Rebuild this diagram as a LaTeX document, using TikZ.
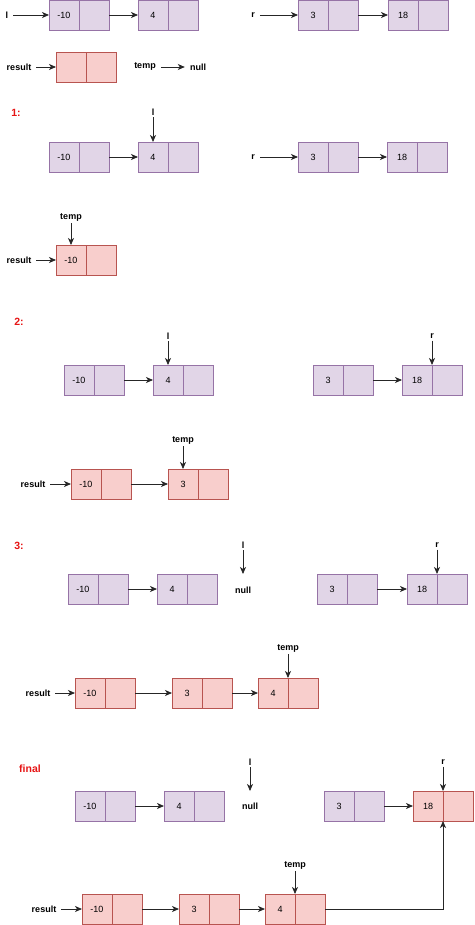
\documentclass[tikz,border=0pt]{standalone}
\usepackage{fontspec}
\setmainfont{Liberation Sans}
\definecolor{nodepurple}{HTML}{E1D5E7}
\definecolor{edgepurple}{HTML}{9673A6}
\definecolor{nodepink}{HTML}{F8CECC}
\definecolor{edgepink}{HTML}{B85450}
\definecolor{steptitle}{RGB}{230,20,20}
\usetikzlibrary{arrows.meta,positioning,calc}

% one list element: value cell #1 and next cell #1p
\newcommand{\lnode}[4]{%
  \node[cell,#4,anchor=west] (#1) at (#2) {#3};
  \node[cell,#4,right=0pt of #1] (#1p) {};}

\begin{document}
\begin{tikzpicture}[x=1pt, y=-1pt,
    cell/.style={draw, minimum width=30pt, minimum height=30pt, inner sep=0pt,
                 outer sep=0pt, line width=0.8pt, font=\fontsize{9}{10}\selectfont},
    lst/.style={fill=nodepurple, draw=edgepurple},
    res/.style={fill=nodepink, draw=edgepink},
    var/.style={font=\fontsize{9}{10}\selectfont\bfseries, inner xsep=5pt, inner ysep=2pt},
    title/.style={font=\fontsize{10.5}{12}\selectfont\bfseries, text=steptitle},
    ptr/.style={-{Stealth[length=7pt,width=6pt,inset=2pt]}, line width=0.8pt, draw=black!85}]
  \useasboundingbox (0,0) rectangle (474,925);

  % start
  \lnode{a0}{49,15}{-10}{lst}
  \lnode{b0}{138,15}{4}{lst}
  \lnode{c0}{298,15}{3}{lst}
  \lnode{d0}{388,15}{18}{lst}
  \lnode{e0}{56,67}{}{res}
  \node[var] (l0) at (7,15) {l};
  \node[var] (r0) at (253,15) {r};
  \node[var] (res0) at (19,67) {result};
  \node[var] (tmp0) at (145,67) {temp};
  \node[var] (nul0) at (198,67) {null};
  \draw[ptr] (l0) -- (a0);
  \draw[ptr] (a0p) -- (b0);
  \draw[ptr] (r0) -- (c0);
  \draw[ptr] (c0p) -- (d0);
  \draw[ptr] (res0) -- (e0);
  \draw[ptr] (tmp0) -- (nul0);

  % step 1
  \node[title] (s1) at (16,113) {1:};
  \lnode{a1}{49,157}{-10}{lst}
  \lnode{b1}{138,157}{4}{lst}
  \lnode{c1}{298,157}{3}{lst}
  \lnode{d1}{387,157}{18}{lst}
  \lnode{e1}{56,260}{-10}{res}
  \node[var] (l1) at (153,112) {l};
  \node[var] (r1) at (253,157) {r};
  \node[var] (res1) at (19,260) {result};
  \node[var] (tmp1) at (71,217) {temp};
  \draw[ptr] (a1p) -- (b1);
  \draw[ptr] (c1p) -- (d1);
  \draw[ptr] (l1) -- (b1);
  \draw[ptr] (r1) -- (c1);
  \draw[ptr] (res1) -- (e1);
  \draw[ptr] (tmp1) -- (e1);

  % step 2
  \node[title] (s2) at (19,322) {2:};
  \lnode{a2}{64,380}{-10}{lst}
  \lnode{b2}{153,380}{4}{lst}
  \lnode{c2}{313,380}{3}{lst}
  \lnode{d2}{402,380}{18}{lst}
  \lnode{e2}{71,484}{-10}{res}
  \lnode{f2}{168,484}{3}{res}
  \node[var] (l2) at (168,336) {l};
  \node[var] (r2) at (432,336) {r};
  \node[var] (res2) at (33,484) {result};
  \node[var] (tmp2) at (183,440) {temp};
  \draw[ptr] (a2p) -- (b2);
  \draw[ptr] (c2p) -- (d2);
  \draw[ptr] (l2) -- (b2);
  \draw[ptr] (r2) -- (d2.north east);
  \draw[ptr] (e2p) -- (f2);
  \draw[ptr] (res2) -- (e2);
  \draw[ptr] (tmp2) -- (f2);

  % step 3
  \node[title] (s3) at (19,546) {3:};
  \lnode{a3}{68,589}{-10}{lst}
  \lnode{b3}{157,589}{4}{lst}
  \lnode{c3}{317,589}{3}{lst}
  \lnode{d3}{407,589}{18}{lst}
  \lnode{e3}{75,693}{-10}{res}
  \lnode{f3}{172,693}{3}{res}
  \lnode{g3}{258,693}{4}{res}
  \node[var] (l3) at (243,545) {l};
  \node[var] (nul3) at (243,590) {null};
  \node[var] (r3) at (437,545) {r};
  \node[var] (res3) at (38,693) {result};
  \node[var] (tmp3) at (288,648) {temp};
  \draw[ptr] (a3p) -- (b3);
  \draw[ptr] (c3p) -- (d3);
  \draw[ptr] (l3) -- (l3 |- a3.north);
  \draw[ptr] (r3) -- (d3.north east);
  \draw[ptr] (e3p) -- (f3);
  \draw[ptr] (f3p) -- (g3);
  \draw[ptr] (res3) -- (e3);
  \draw[ptr] (tmp3) -- (g3.north east);

  % final
  \node[title] (s4) at (30,769) {final};
  \lnode{a4}{75,806}{-10}{lst}
  \lnode{b4}{164,806}{4}{lst}
  \lnode{c4}{324,806}{3}{lst}
  \lnode{d4}{413,806}{18}{res}
  \lnode{e4}{82,909}{-10}{res}
  \lnode{f4}{179,909}{3}{res}
  \lnode{g4}{265,909}{4}{res}
  \node[var] (l4) at (250,762) {l};
  \node[var] (nul4) at (250,806) {null};
  \node[var] (r4) at (443,762) {r};
  \node[var] (res4) at (44,909) {result};
  \node[var] (tmp4) at (295,865) {temp};
  \draw[ptr] (a4p) -- (b4);
  \draw[ptr] (c4p) -- (d4);
  \draw[ptr] (l4) -- (l4 |- a4.north);
  \draw[ptr] (r4) -- (d4.north east);
  \draw[ptr] (e4p) -- (f4);
  \draw[ptr] (f4p) -- (g4);
  \draw[ptr] (res4) -- (e4);
  \draw[ptr] (tmp4) -- (g4.north east);
  \draw[ptr] (g4p) -| (d4.south east);
\end{tikzpicture}
\end{document}
